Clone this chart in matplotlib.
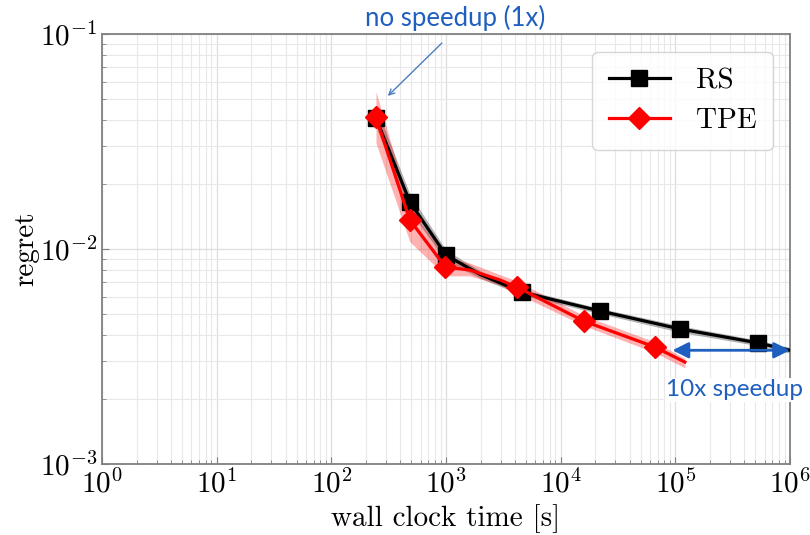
import matplotlib
matplotlib.use("Agg")
import matplotlib.pyplot as plt
import numpy as np

# ---- data ----
rs_time = [245, 484, 998, 2000, 4590, 21980, 109400, 524000, 1000000]
rs_regret = [0.0406, 0.01655, 0.00937, 0.0076, 0.0063, 0.00515, 0.00425, 0.00366, 0.00338]
rs_lo = [0.0370, 0.0150, 0.0088, 0.0073, 0.0061, 0.0050, 0.0041, 0.00355, 0.00328]
rs_hi = [0.0460, 0.0180, 0.0099, 0.0079, 0.0065, 0.0053, 0.0044, 0.00377, 0.00348]
rs_marker_idx = [0, 1, 2, 4, 5, 6, 7]

tpe_time = [245, 484, 990, 1616, 2951, 4150, 15900, 66300, 121000]
tpe_regret = [0.0410, 0.01364, 0.00824, 0.00798, 0.00718, 0.00665, 0.00462, 0.00350, 0.00298]
tpe_lo = [0.0311, 0.0108, 0.0075, 0.0075, 0.0068, 0.0062, 0.0044, 0.0033, 0.0028]
tpe_hi = [0.0540, 0.0155, 0.0092, 0.0086, 0.0076, 0.0071, 0.0049, 0.0037, 0.0031]
tpe_marker_idx = [0, 1, 2, 5, 6, 7]

xlim = (1e0, 1e6)
ylim = (1e-3, 1e-1)

plt.rcParams['font.family'] = 'serif'
plt.rcParams['font.serif'] = ['cmr10', 'DejaVu Serif']
plt.rcParams['mathtext.fontset'] = 'cm'
plt.rcParams['axes.formatter.use_mathtext'] = True
plt.rcParams['axes.unicode_minus'] = False

fig = plt.figure(figsize=(8.1, 5.35), dpi=100)
ax = fig.add_axes([102/810, 1-464/535, (790-102)/810, (464-34)/535])
ax.set_xscale('log')
ax.set_yscale('log')
ax.set_xlim(*xlim)
ax.set_ylim(*ylim)

ax.grid(True, which='major', color='#dddddd', lw=0.9)
ax.grid(True, which='minor', color='#e8e8e8', lw=0.8)
ax.set_axisbelow(True)

ax.fill_between(rs_time, rs_lo, rs_hi, color='black', alpha=0.3, lw=0, zorder=2)
ax.fill_between(tpe_time, tpe_lo, tpe_hi, color='red', alpha=0.3, lw=0, zorder=3)

ax.plot(rs_time, rs_regret, color='black', lw=2.3, marker='s', markersize=12,
        markevery=rs_marker_idx, label='RS', zorder=4)
ax.plot(tpe_time, tpe_regret, color='red', lw=2.3, marker='D', markersize=11,
        markevery=tpe_marker_idx, label='TPE', zorder=5)

for s in ax.spines.values():
    s.set_color('#808080')
    s.set_linewidth(1.3)
ax.tick_params(which='both', direction='in', color='#808080', labelsize=21)
ax.tick_params(which='major', length=5)
ax.tick_params(which='minor', length=3)

ax.set_xlabel('wall clock time [s]', fontsize=21)
ax.set_ylabel('regret', fontsize=21, labelpad=0)

leg = ax.legend(loc='upper right', fontsize=21, frameon=True, borderpad=0.55,
                handlelength=2.1, handletextpad=0.9, labelspacing=0.45,
                borderaxespad=0, bbox_to_anchor=(0.975, 0.958))
leg.get_frame().set_edgecolor('#cccccc')

blue = '#1f5fbf'
fig.text(455/810, 1-18/535, 'no speedup (1x)', fontsize=18.5, color=blue,
         family='Lato', ha='center', va='center')
ax.annotate('', xy=(311, 0.0515), xytext=(0.494, 0.979), textcoords='axes fraction',
            arrowprops=dict(arrowstyle='->', color='#4a7ec0', lw=1.0,
                            shrinkA=0, shrinkB=0), annotation_clip=False)
ax.annotate('', xy=(1e6, 0.00338), xytext=(tpe_time[-1] * 0.78, 0.00338),
            arrowprops=dict(arrowstyle='<|-|>', color='#1f5fbf', lw=2,
                            mutation_scale=24, shrinkA=0, shrinkB=0), zorder=6)
fig.text(735/810, 1-390/535, '10x speedup', fontsize=17.5,
         color=blue, family='Lato', ha='center', va='center',
         bbox=dict(facecolor='white', edgecolor='none', pad=1))

fig.savefig('out.png', dpi=100)
